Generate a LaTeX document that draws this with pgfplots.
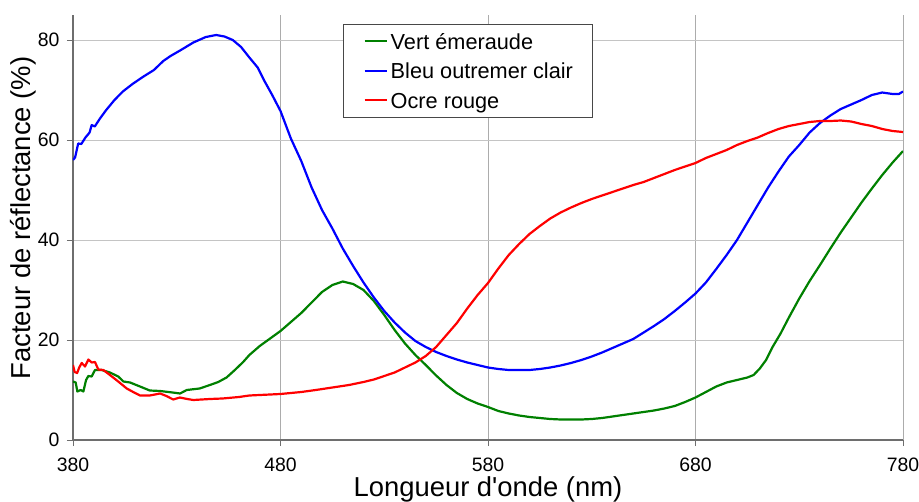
\documentclass[border=0pt]{standalone}
\usepackage{fontspec}
\setmainfont{Liberation Sans}
\usepackage{pgfplots}
\pgfplotsset{compat=1.18}
\definecolor{cvert}{RGB}{0,128,0}
\definecolor{cbleu}{RGB}{0,0,255}
\definecolor{crouge}{RGB}{255,0,0}
\definecolor{cgridx}{RGB}{172,172,172}
\definecolor{cgridy}{RGB}{196,196,196}
\definecolor{caxe}{RGB}{110,110,110}
\begin{document}
\begin{tikzpicture}
\begin{axis}[
  scale only axis, width=830bp, height=425bp,
  xmin=380, xmax=780, ymin=0, ymax=85,
  axis lines=left, axis line style={-, draw=caxe, line width=1.3pt},
  xtick={380,480,580,680,780}, ytick={0,20,40,60,80},
  tick align=outside, major tick length=6bp,
  tick style={draw=caxe, line width=1pt},
  xmajorgrids, ymajorgrids,
  x grid style={draw=cgridx, line width=1pt},
  y grid style={draw=cgridy, line width=1pt},
  ticklabel style={font=\fontsize{19.5}{22}\selectfont},
  /pgf/number format/assume math mode=true,
  xticklabel style={yshift=-8bp},
  yticklabel style={xshift=-4bp},
  xlabel={Longueur d\textquotesingle onde (nm)},
  ylabel={Facteur de réflectance (\%)},
  label style={font=\fontsize{27.5}{32}\selectfont, inner sep=0pt},
  xlabel style={at={(axis description cs:0.5,-0.1318)}, anchor=base},
  ylabel style={at={(axis description cs:-0.0518,0.5224)}, anchor=base},
  legend cell align=left,
  legend style={at={(axis description cs:0.3253,0.9788)}, anchor=north west,
    draw=black!72, line width=1pt, fill=white,
    inner xsep=20bp, inner ysep=9bp,
    font=\fontsize{21.8}{25}\selectfont,
    nodes={inner sep=0pt, text height=15.5bp, text depth=0pt},
    row sep=14bp,
    /tikz/every odd column/.append style={column sep=3bp}},
  legend image code/.code={\draw[#1] (12bp,0bp) -- (34bp,0bp);},
  every axis plot/.append style={line width=2.2bp, line join=round},
]
\addplot[cvert] coordinates {
(380,11.7) (381.3,11.5) (382.1,9.7) (383.7,10) (385,9.7) (386.3,12) (387.4,12.8)
(389,12.7) (390.6,14) (393.8,14) (397.8,13.5) (401.8,12.7) (404.3,11.7) (407.5,11.5)
(412.3,10.7) (417,9.9) (422,9.8) (428,9.5) (431.6,9.3) (434.8,10) (441,10.3)
(446,11) (450,11.6) (454,12.5) (458,14) (462,15.6) (465,17) (470,18.8) (475,20.3)
(480,21.8) (485,23.6) (490,25.4) (495,27.5) (500,29.6) (505,31) (510,31.7)
(515,31.2) (520,30) (525,27.8) (530,25) (535,22) (540,19.3) (545,17) (550,15)
(555,12.9) (560,11) (565,9.4) (570,8.2) (575,7.3) (580,6.6) (585,5.8) (590,5.3)
(595,4.9) (600,4.6) (605,4.4) (610,4.2) (615,4.1) (620,4.1) (625,4.1) (630,4.2)
(635,4.4) (640,4.7) (645,5) (650,5.3) (655,5.6) (660,5.9) (665,6.3) (670,6.8)
(675,7.6) (680,8.5) (685,9.6) (690,10.7) (695,11.5) (700,12) (705,12.5) (708,13)
(711,14.3) (714,16) (717,18.5) (721,21.3) (725,24.5) (730,28.3) (735,31.8)
(740,35) (745,38.3) (750,41.5) (755,44.5) (760,47.5) (765,50.3) (770,53)
(775,55.5) (780,57.8)
};
\addlegendentry{Vert émeraude}
\addplot[cbleu] coordinates {
(380,56) (381,56.5) (382.5,59.3) (384,59.2) (386,60.5) (388,61.5) (389,63)
(390.5,62.7) (393,64.3) (396,66) (400,68) (404,69.7) (409,71.3) (414,72.7)
(419,74) (423.5,75.8) (427,76.8) (432,78) (438,79.5) (444,80.6) (449,81)
(453,80.7) (457,80) (461,78.6) (465,76.5) (469,74.5) (472,72) (476,69)
(480,65.8) (485,60.3) (490,55.8) (495,50.5) (500,46) (505,42.3) (510,38.3)
(515,34.8) (520,31.5) (525,28.5) (530,25.8) (535,23.5) (540,21.5) (545,19.8)
(550,18.6) (555,17.6) (560,16.8) (565,16.1) (570,15.5) (575,15) (580,14.5)
(585,14.2) (590,14) (595,14) (600,14) (605,14.2) (610,14.5) (615,14.9)
(620,15.4) (625,16) (630,16.7) (635,17.5) (640,18.4) (645,19.3) (650,20.2)
(655,21.5) (660,22.8) (665,24.2) (670,25.8) (675,27.5) (680,29.3) (685,31.5)
(690,34.2) (695,37) (700,40) (705,43.5) (710,47) (715,50.5) (720,53.7)
(725,56.7) (730,59) (735,61.5) (740,63.4) (745,64.9) (750,66.2) (755,67.1)
(760,68) (765,69) (770,69.5) (775,69.2) (778,69.2) (780,69.7)
};
\addlegendentry{Bleu outremer clair}
\addplot[crouge] coordinates {
(380,15) (380.8,13.6) (382,13.4) (383,14.5) (384.2,15.4) (385.8,14.7)
(387.4,16.1) (389,15.5) (390.6,15.6) (392.2,14.1) (394.6,14) (397.8,13)
(401.8,11.7) (405.9,10.3) (409,9.6) (412.3,8.9) (417,8.9) (422,9.3) (425,8.8)
(428.3,8.1) (431.5,8.5) (435,8.2) (438,8) (446,8.2) (452,8.3) (460,8.6)
(465,8.9) (470,9) (480,9.2) (490,9.6) (497,10) (505,10.5) (513,11) (520,11.6)
(525,12.1) (530,12.8) (535,13.5) (540,14.5) (545,15.5) (550,16.8) (555,18.6)
(560,21) (565,23.4) (570,26.3) (575,29) (580,31.4) (585,34.3) (590,37)
(595,39.2) (600,41.2) (605,42.8) (610,44.3) (615,45.5) (620,46.5) (625,47.4)
(630,48.2) (635,48.9) (640,49.6) (645,50.3) (650,51) (655,51.6) (660,52.4)
(665,53.2) (670,54) (675,54.7) (680,55.4) (685,56.4) (690,57.2) (695,58)
(700,59) (705,59.8) (710,60.5) (715,61.4) (720,62.2) (725,62.8) (730,63.2)
(735,63.6) (740,63.8) (745,63.8) (750,63.9) (755,63.7) (760,63.2) (765,62.8)
(770,62.2) (775,61.8) (780,61.6)
};
\addlegendentry{Ocre rouge}
\coordinate (o) at (rel axis cs:0,0);
\end{axis}
\pgfresetboundingbox
\path ([shift={(-73bp,-62bp)}]o) rectangle ++(919bp,502bp);
\end{tikzpicture}
\end{document}
